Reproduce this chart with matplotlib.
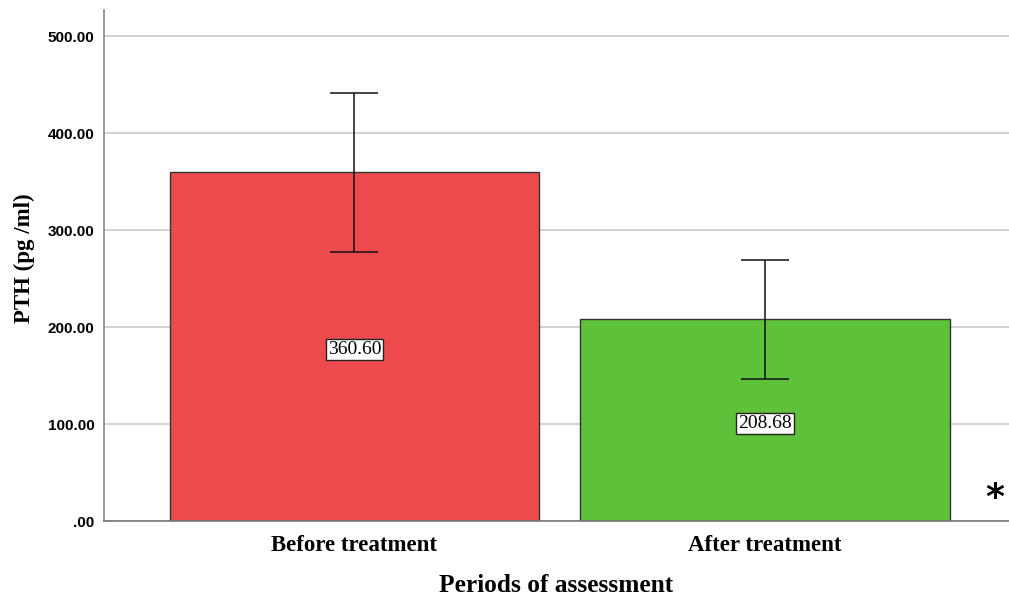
import matplotlib
matplotlib.use("Agg")
import matplotlib.pyplot as plt

# PTH levels by assessment period
periods = ["Before treatment", "After treatment"]
means = [360.60, 208.68]
upper_ci = [442.0, 269.0]
lower_ci = [278.0, 147.0]
bar_colors = ["#EC4A4D", "#5EC13A"]
yticks = [0, 100, 200, 300, 400, 500]
ytick_labels = [".00", "100.00", "200.00", "300.00", "400.00", "500.00"]

fig = plt.figure(figsize=(10.09, 5.99), dpi=100)
ax = fig.add_axes([0.1031, 0.1294, 0.8969, 0.8539])

x = list(range(len(periods)))
ax.bar(x, means, width=0.9, color=bar_colors, edgecolor="#333333",
       linewidth=1.0, zorder=2)

err_lo = [m - lo for m, lo in zip(means, lower_ci)]
err_hi = [hi - m for m, hi in zip(means, upper_ci)]
ax.errorbar(x, means, yerr=[err_lo, err_hi], fmt="none", ecolor="#111111",
            elinewidth=1.1, capsize=17, capthick=1.1, zorder=3)

for xi, m in zip(x, means):
    ax.text(xi, m / 2 - 3, f"{m:.2f}", ha="center", va="center",
            family="Liberation Serif", fontsize=14, color="black",
            bbox=dict(boxstyle="square,pad=0.1", facecolor="white",
                      edgecolor="#222222", linewidth=1.0), zorder=4)

ax.set_xlim(-0.61, 1.594)
ax.set_ylim(0, 527)
ax.set_yticks(yticks)
ax.set_yticklabels(ytick_labels, family="Liberation Sans",
                   fontweight="bold", fontsize=11)
ax.set_xticks(x)
ax.set_xticklabels(periods, family="Liberation Serif", fontweight="bold",
                   fontsize=16.5)
ax.tick_params(axis="both", length=0)
ax.tick_params(axis="x", pad=10)
ax.tick_params(axis="y", pad=7)

ax.yaxis.grid(True, color="#cfcfcf", linewidth=1.3, zorder=0)
ax.set_axisbelow(True)
for side in ("top", "right"):
    ax.spines[side].set_visible(False)
ax.spines["left"].set_color("#888888")
ax.spines["bottom"].set_color("#777777")
ax.spines["left"].set_linewidth(1.2)
ax.spines["bottom"].set_linewidth(1.2)

ax.set_xlabel("Periods of assessment", family="Liberation Serif",
              fontweight="bold", fontsize=18.3, labelpad=13)
ax.set_ylabel("PTH (pg /ml)", family="Liberation Serif",
              fontweight="bold", fontsize=16.5)
ax.yaxis.set_label_coords(-0.076, 0.515)

fig.text(0.986, 0.168, "*", family="DejaVu Sans", fontweight="bold",
         fontsize=26, ha="center", va="center")

fig.savefig("out.png", dpi=100)
